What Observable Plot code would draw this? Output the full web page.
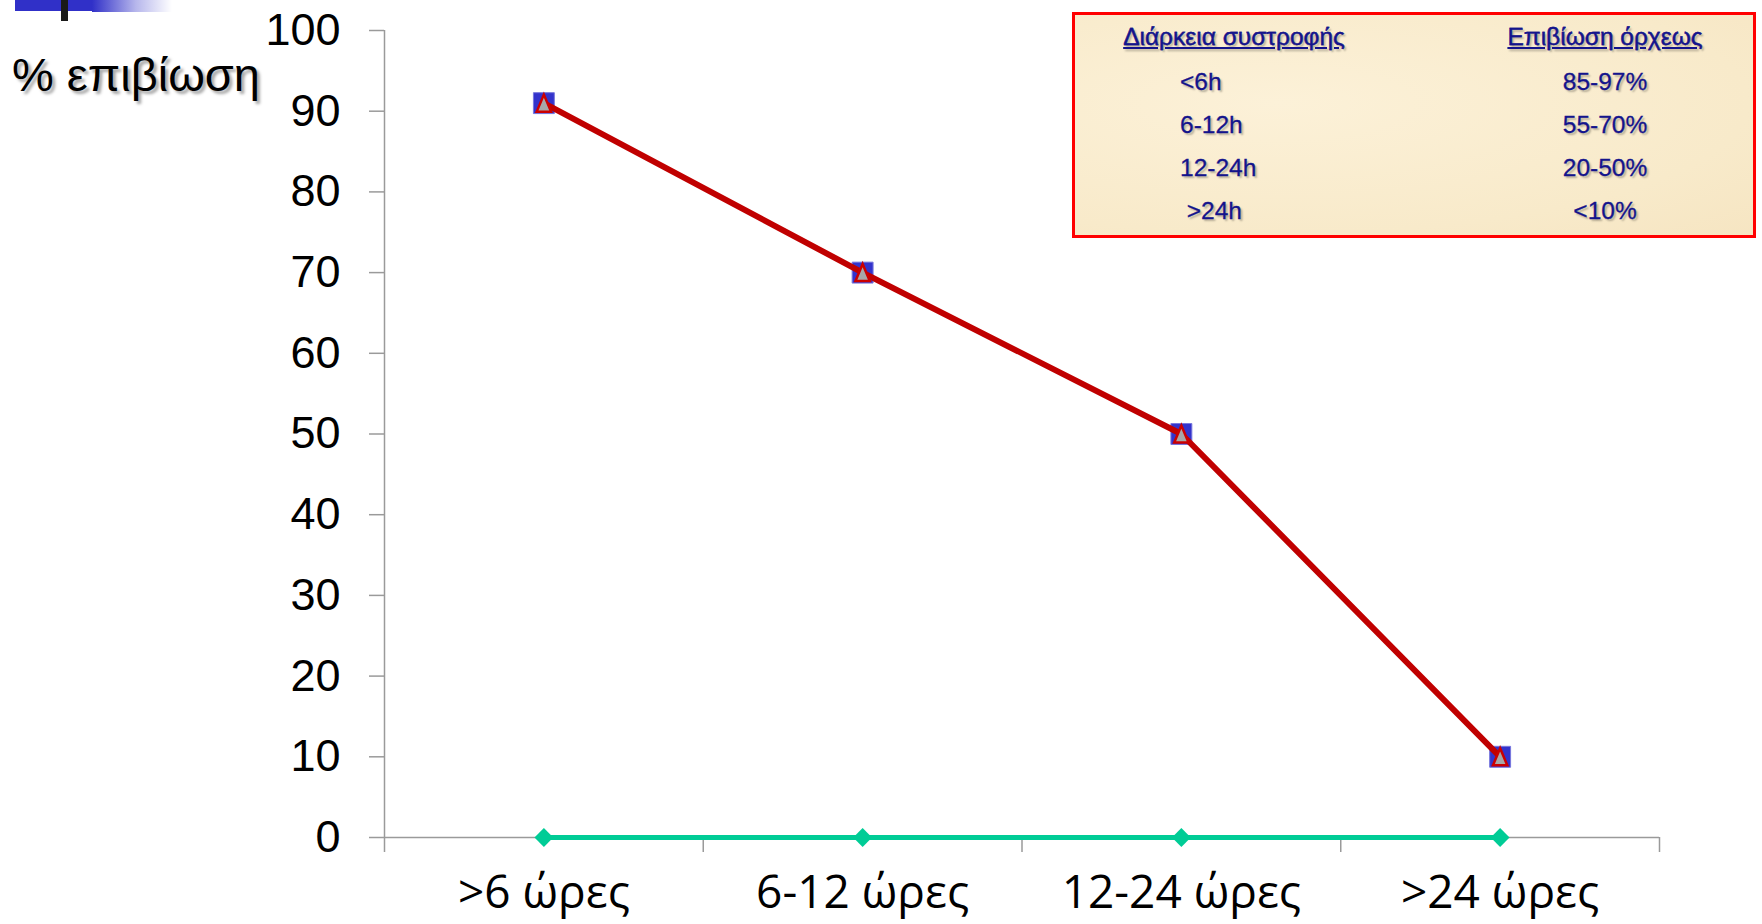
<!DOCTYPE html>
<html>
<head>
<meta charset="utf-8">
<script src="https://cdn.jsdelivr.net/npm/d3@7"></script>
<script src="https://cdn.jsdelivr.net/npm/@observablehq/plot@0.6"></script>
<style>
  html, body { margin: 0; padding: 0; background: #fff; }
  #wrap { position: relative; width: 1762px; height: 924px; overflow: hidden; }
  #chart { position: absolute; left: 0; top: 0; }
  .deco-blue { position: absolute; left: 15px; top: 0; width: 77px; height: 11px; background: #3030c8; }
  .deco-grad { position: absolute; left: 92px; top: 0; width: 80px; height: 12px; background: linear-gradient(to right, #3030c8, rgba(48,48,200,0.35) 55%, rgba(255,255,255,0)); }
  .deco-black { position: absolute; left: 61px; top: 0; width: 7px; height: 21px; background: #1a1a1a; }
  #ytitle { position: absolute; left: 12px; top: 47px; font-family: "Liberation Sans", Arial, sans-serif; font-size: 47px; color: #000; text-shadow: 3px 3px 3px rgba(0,0,0,0.35); white-space: nowrap; }
  #box { position: absolute; left: 1072px; top: 12px; width: 678px; height: 220px; border: 3px solid #ff0000;
         background: radial-gradient(ellipse at 30% 40%, #fcf1d8, #f8eaca 70%, #f6e5c2); }
  .cell { position: absolute; font-family: "Liberation Sans", Arial, sans-serif; font-size: 24.5px; color: #14148c; text-shadow: 2px 2px 2px rgba(0,0,0,0.28); white-space: pre; line-height: 28px; -webkit-text-stroke: 0.3px #14148c; }
  .hdr { text-decoration: underline; transform: translateX(-50%); }
  .val { transform: translateX(-50%); }
</style>
</head>
<body>
<div id="wrap">
  <div id="chart"></div>
  <div class="deco-grad"></div>
  <div class="deco-blue"></div>
  <div class="deco-black"></div>
  <div id="ytitle"></div>
  <div id="box"></div>
</div>
<script>
// ---- data ----
const categories = [">6 ώρες", "6-12 ώρες", "12-24 ώρες", ">24 ώρες"];
const survival = [91, 70, 50, 10];
const baseline = [0, 0, 0, 0];
const yTicks = [0, 10, 20, 30, 40, 50, 60, 70, 80, 90, 100];
const yTitle = "% επιβίωση";
const tableHeaders = ["Διάρκεια συστροφής", "Επιβίωση όρχεως"];
const durations = ["<6h", "6-12h", "12-24h", " >24h"];
const testisSurvival = ["85-97%", "55-70%", "20-50%", "<10%"];

// ---- layout ----
const W = 1762, H = 924;
const mL = 384, mR = 103, mT = 30, mB = 87;

const rows = categories.map((c, i) => ({i, cat: c, pos: i + 0.5, v: survival[i], b: baseline[i]}));
const boundaries = d3.range(categories.length + 1);
const centers = rows.map(d => d.pos);

// isoceles triangle symbol fitting a square box
const triSymbol = {
  draw(ctx, size) {
    const s = Math.sqrt(size);
    ctx.moveTo(0, -s / 2);
    ctx.lineTo(s * 0.42, s / 2);
    ctx.lineTo(-s * 0.42, s / 2);
    ctx.closePath();
  }
};

const plot = Plot.plot({
  width: W, height: H,
  marginLeft: mL, marginRight: mR, marginTop: mT, marginBottom: mB,
  style: {background: "transparent", overflow: "visible"},
  x: {type: "linear", domain: [0, categories.length], label: null},
  y: {domain: [0, 100], label: null},
  marks: [
    Plot.ruleX([0], {stroke: "#9a9a9a", strokeWidth: 1.5}),
    Plot.ruleY([0], {stroke: "#9a9a9a", strokeWidth: 1.5}),
    Plot.axisY({ticks: yTicks, tickSize: 15, tickFormat: () => "", stroke: "#9a9a9a", strokeWidth: 1.5, label: null}),
    Plot.axisY({ticks: yTicks, tickSize: 0, tickPadding: 44, fontSize: 45, fontFamily: "Liberation Sans, Arial, sans-serif", fill: "#000", dy: 0, label: null}),
    Plot.axisX({ticks: boundaries, tickSize: 15, tickFormat: () => "", stroke: "#9a9a9a", strokeWidth: 1.5, label: null}),
    Plot.axisX({ticks: centers, tickSize: 0, tickPadding: 38, tickFormat: v => categories[Math.floor(v)], fontSize: 46, fontFamily: "Open Sans, sans-serif", fill: "#000", label: null}),
    // baseline series
    Plot.line(rows, {x: "pos", y: "b", stroke: "#00cc96", strokeWidth: 5}),
    Plot.dot(rows, {x: "pos", y: "b", symbol: "diamond2", r: 8.5, fill: "#00cc96", stroke: "none"}),
    // survival series
    Plot.dot(rows, {x: "pos", y: "v", symbol: "square", r: 11.8, fill: "#3333cc", stroke: "#7777dd", strokeWidth: 1}),
    Plot.line(rows, {x: "pos", y: "v", stroke: "#c00000", strokeWidth: 6}),
    Plot.dot(rows, {x: "pos", y: "v", symbol: triSymbol, r: 9.6, fill: "#a8a8a8", stroke: "#cc0000", strokeWidth: 2.5})
  ]
});
document.getElementById("chart").appendChild(plot);

document.getElementById("ytitle").textContent = yTitle;

// ---- table box ----
const box = document.getElementById("box");
const boxLeft = 1072 + 3, boxTop = 12 + 3;
function cell(text, x, yc, cls) {
  const el = document.createElement("div");
  el.className = "cell " + cls;
  el.textContent = text;
  el.style.left = (x - boxLeft) + "px";
  el.style.top = (yc - 14 - boxTop) + "px";
  box.appendChild(el);
}
cell(tableHeaders[0], 1234, 37, "hdr");
cell(tableHeaders[1], 1605, 37, "hdr");
const rowY = [82, 125, 168, 211];
durations.forEach((d, i) => cell(d, 1180, rowY[i], ""));
testisSurvival.forEach((d, i) => cell(d, 1605, rowY[i], "val"));
</script>
</body>
</html>
